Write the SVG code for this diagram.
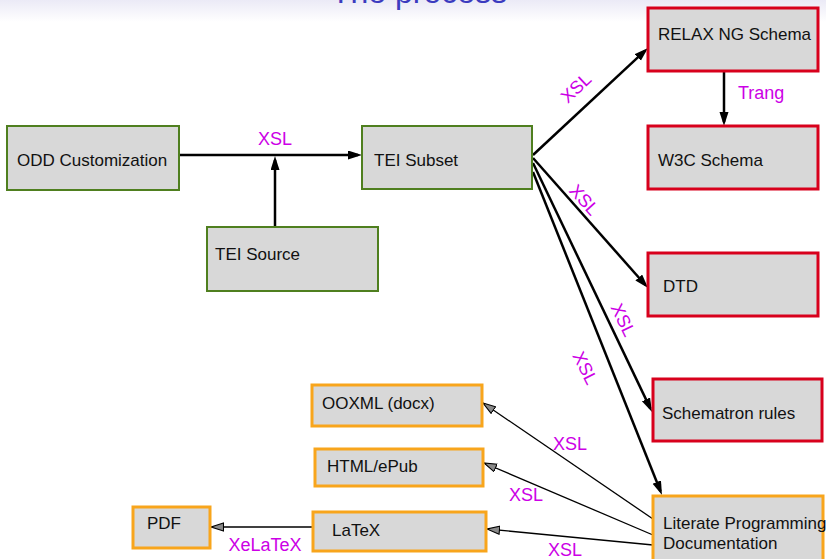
<svg xmlns="http://www.w3.org/2000/svg" width="826" height="559" viewBox="0 0 826 559">
<defs>
<linearGradient id="bg" x1="0" y1="0" x2="0" y2="1">
<stop offset="0" stop-color="#ebeaf6"/>
<stop offset="1" stop-color="#ffffff"/>
</linearGradient>
<marker id="ah" markerUnits="userSpaceOnUse" markerWidth="16" markerHeight="10" refX="10" refY="4.5" orient="auto">
<path d="M0,0 L14,4.5 L0,9 z" fill="#000"/>
</marker>
<marker id="oh" markerUnits="userSpaceOnUse" markerWidth="16" markerHeight="12" refX="13" refY="4.5" orient="auto">
<path d="M0.5,0.5 L13,4.5 L0.5,8.5 z" fill="#8a8a8a" stroke="#000" stroke-width="1.1"/>
</marker>
</defs>
<style>
.g{fill:#d8d8d8;stroke:#4f7f1f;stroke-width:2}
.r{fill:#d8d8d8;stroke:#d8001c;stroke-width:3}
.o{fill:#d8d8d8;stroke:#f8a51c;stroke-width:3}
.t{font-family:"Liberation Sans",Arial,sans-serif;font-size:17px;fill:#111}
.l{font-family:"Liberation Sans",Arial,sans-serif;font-size:18px;fill:#cc00e6}
.thick{stroke:#000;stroke-width:2.5;fill:none;marker-end:url(#ah)}
.thin{stroke:#000;stroke-width:1.3;fill:none;marker-end:url(#oh)}
</style>
<rect x="0" y="0" width="826" height="559" fill="#fff"/>
<rect x="0" y="0" width="826" height="22" fill="url(#bg)"/>
<text x="419" y="3" text-anchor="middle" font-family="'Liberation Sans',Arial,sans-serif" font-size="32" fill="#3b3bbf">The process</text>

<g id="connectors">
<path class="thick" d="M179,155 L358,155"/>
<path class="thick" d="M275,227 L275,160"/>
<path class="thick" d="M533,155 L645.1,50.7"/>
<path class="thick" d="M724,71 L724,122"/>
<path class="thick" d="M533,158 L645.4,285"/>
<path class="thick" d="M533,163 L650.3,408.4"/>
<path class="thick" d="M533,172 L660.5,491.3"/>
<path class="thin" d="M653,519 L483,403"/>
<path class="thin" d="M653,535 L484,463"/>
<path class="thin" d="M653,545 L487,529"/>
<path class="thin" d="M313,527 L211,527"/>
<text class="l" x="275" y="145" text-anchor="middle">XSL</text>
<text class="l" x="738" y="99">Trang</text>
<text class="l" transform="translate(576,88) rotate(-43)" text-anchor="middle" dominant-baseline="central">XSL</text>
<text class="l" transform="translate(584,200) rotate(48)" text-anchor="middle" dominant-baseline="central">XSL</text>
<text class="l" transform="translate(623,320) rotate(64)" text-anchor="middle" dominant-baseline="central">XSL</text>
<text class="l" transform="translate(585,368) rotate(63)" text-anchor="middle" dominant-baseline="central">XSL</text>
<text class="l" x="570" y="450" text-anchor="middle">XSL</text>
<text class="l" x="526" y="501" text-anchor="middle">XSL</text>
<text class="l" x="565" y="556" text-anchor="middle">XSL</text>
<text class="l" x="265" y="551" text-anchor="middle">XeLaTeX</text>
</g>

<g id="odd"><rect class="g" x="7" y="126" width="172" height="64"/><text class="t" x="17" y="166">ODD Customization</text></g>
<g id="subset"><rect class="g" x="362" y="126" width="170" height="63"/><text class="t" x="374" y="166">TEI Subset</text></g>
<g id="source"><rect class="g" x="207" y="227" width="171" height="64"/><text class="t" x="215" y="260">TEI Source</text></g>
<g id="relaxng"><rect class="r" x="648" y="8" width="170" height="63"/><text class="t" x="658" y="40">RELAX NG Schema</text></g>
<g id="w3c"><rect class="r" x="648" y="126" width="170" height="63"/><text class="t" x="658" y="166">W3C Schema</text></g>
<g id="dtd"><rect class="r" x="648" y="253" width="170" height="63"/><text class="t" x="663" y="292">DTD</text></g>
<g id="schematron"><rect class="r" x="653" y="379" width="169" height="62"/><text class="t" x="662" y="419">Schematron rules</text></g>
<g id="literate"><rect class="o" x="653" y="496" width="170" height="70"/><text class="t" x="663" y="529">Literate Programming</text><text class="t" x="663" y="549">Documentation</text></g>
<g id="ooxml"><rect class="o" x="312" y="385" width="170" height="41"/><text class="t" x="322" y="409">OOXML (docx)</text></g>
<g id="html"><rect class="o" x="315" y="449" width="168" height="37"/><text class="t" x="327" y="472">HTML/ePub</text></g>
<g id="latex"><rect class="o" x="313" y="512" width="173" height="39"/><text class="t" x="332" y="536">LaTeX</text></g>
<g id="pdf"><rect class="o" x="133" y="507" width="77" height="41"/><text class="t" x="147" y="529">PDF</text></g>
</svg>
